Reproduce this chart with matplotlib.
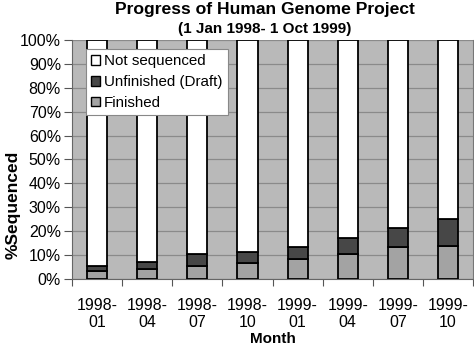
import numpy as np
import matplotlib
matplotlib.use("Agg")
import matplotlib.pyplot as plt
from matplotlib.patches import Patch

plt.rcParams["font.family"] = ["Liberation Sans", "DejaVu Sans"]

months = ["1998-\n01", "1998-\n04", "1998-\n07", "1998-\n10",
          "1999-\n01", "1999-\n04", "1999-\n07", "1999-\n10"]
finished = [3.5, 4.2, 5.4, 6.5, 8.3, 10.4, 13.2, 14.0]
unfinished = [2.0, 2.8, 4.9, 4.9, 5.2, 6.6, 8.0, 11.3]
not_sequenced = [100 - f - u for f, u in zip(finished, unfinished)]

fig = plt.figure(figsize=(4.74, 3.49), dpi=100)
ax = fig.add_axes([0.152, 0.2006, 0.846, 0.6848])
ax.set_facecolor("#b9b9b9")

x = np.arange(len(months))
w = 0.4
ax.bar(x, finished, w, color="#a3a3a3", edgecolor="black", linewidth=1.3, zorder=3)
ax.bar(x, unfinished, w, bottom=finished, color="#474747", edgecolor="black",
       linewidth=1.3, zorder=3)
bottom2 = [f + u for f, u in zip(finished, unfinished)]
ax.bar(x, not_sequenced, w, bottom=bottom2, color="white", edgecolor="black",
       linewidth=1.3, zorder=3)

ax.set_xlim(-0.5, len(months) - 0.5)
ax.set_ylim(0, 100)
ax.set_yticks(np.arange(0, 101, 10))
ax.set_yticklabels([f"{v}%" for v in range(0, 101, 10)], fontsize=11.5)
ax.yaxis.grid(True, color="#8a8a8a", linewidth=0.9, zorder=0)
ax.tick_params(axis="y", length=6, width=0.8, color="#555555", pad=2)

ax.set_xticks(np.arange(-0.5, len(months), 1))
ax.set_xticklabels([])
ax.set_xticks(x, minor=True)
ax.set_xticklabels(months, minor=True, fontsize=11.5, linespacing=1.1)
ax.tick_params(axis="x", which="major", length=5, width=0.8, color="#555555")
ax.tick_params(axis="x", which="minor", length=0, pad=14)

ax.spines["top"].set_visible(False)
ax.spines["left"].set_color("#666666")
ax.spines["bottom"].set_color("#666666")
ax.spines["right"].set_color("#777777")

ax.set_xlabel("Month", fontsize=11, fontweight="bold", labelpad=2)
fig.text(0.028, 0.413, "%Sequenced", rotation=90, ha="center", va="center",
         fontsize=12.5, fontweight="bold")

fig.text(0.559, 0.973, "Progress of Human Genome Project", ha="center", va="center",
         fontsize=12.6, fontweight="bold")
fig.text(0.559, 0.918, "(1 Jan 1998- 1 Oct 1999)", ha="center", va="center",
         fontsize=11, fontweight="bold")

handles = [Patch(facecolor="white", edgecolor="black", label="Not sequenced"),
           Patch(facecolor="#474747", edgecolor="black", label="Unfinished (Draft)"),
           Patch(facecolor="#a3a3a3", edgecolor="black", label="Finished")]
leg = ax.legend(handles=handles, loc="upper left", bbox_to_anchor=(0.035, 0.9625),
                fontsize=10.9, frameon=True, fancybox=False, framealpha=1,
                handlelength=0.6, handleheight=0.6, handletextpad=0.25,
                borderpad=0.35, labelspacing=0.45, borderaxespad=0)
leg.get_frame().set_edgecolor("#888888")
leg.get_frame().set_linewidth(0.8)
leg.set_zorder(5)

fig.savefig("out.png", dpi=100)
